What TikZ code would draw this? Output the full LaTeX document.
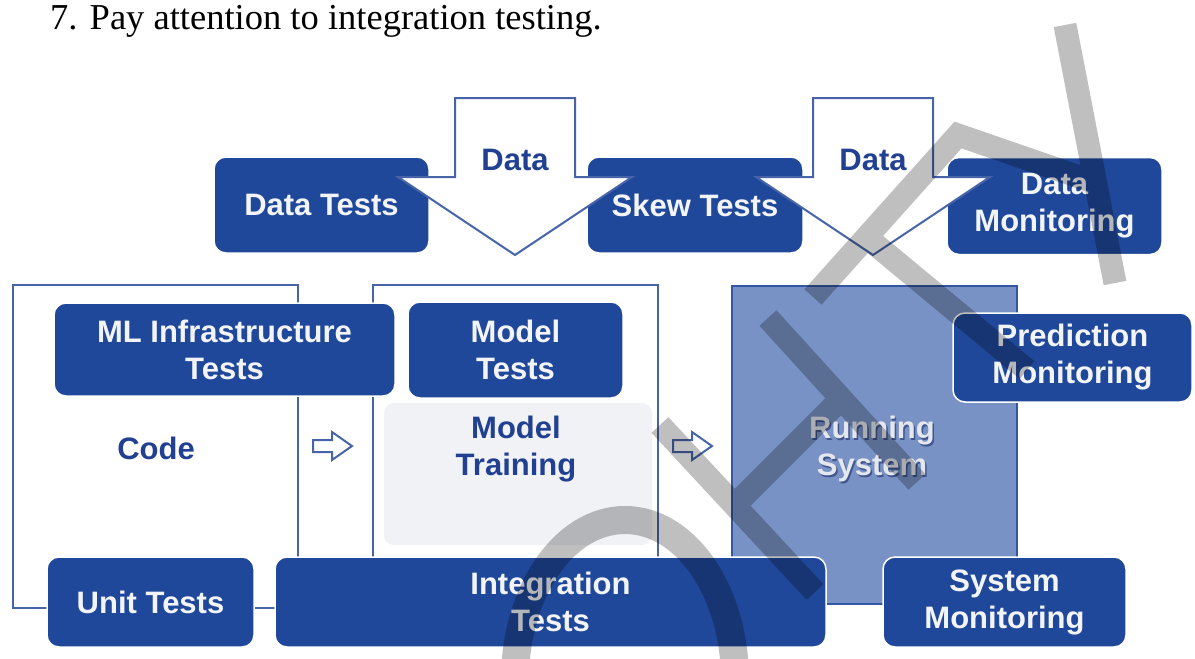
\documentclass[tikz,border=0pt]{standalone}
\usepackage{fontspec}
\newfontfamily\sansfam{Liberation Sans}
\newfontfamily\seriffam{Liberation Serif}
\definecolor{boxblue}{RGB}{31,72,154}
\definecolor{boxtext}{RGB}{242,244,248}
\definecolor{lineblue}{RGB}{72,100,168}
\definecolor{txtblue}{RGB}{33,64,145}
\definecolor{runfill}{RGB}{121,146,197}
\definecolor{runedge}{RGB}{52,86,163}
\definecolor{runtext}{RGB}{228,231,238}
\definecolor{runshade}{RGB}{40,58,118}
\definecolor{trainfill}{RGB}{240,242,246}
\begin{document}
\begin{tikzpicture}[x=1pt,y=-1pt,
  labelfont/.style={font=\sansfam\bfseries\fontsize{31}{37}\selectfont},
  tbox/.style={labelfont, fill=boxblue, draw=white, line width=1.5pt,
    rounded corners=12pt, text=boxtext, align=center, inner sep=0pt},
  frameline/.style={draw=lineblue, line width=2.2pt},
  datashape/.style={draw=lineblue, line width=2pt, fill=white, line join=miter},
  bluelabel/.style={labelfont, text=txtblue, align=center, inner sep=0pt},
  hollowarrow/.pic={
    \draw[draw=lineblue, line width=2pt, fill=white, line join=miter]
      (-19,-6) -- (0,-6) -- (0,-14) -- (20,0) -- (0,14) -- (0,6) -- (-19,6) -- cycle;},
  wm/.style={draw=black, draw opacity=0.25, line cap=butt, line join=miter},
]
\useasboundingbox (0,0) rectangle (1195,659);
\fill[white] (0,0) rectangle (1195,659);

% heading
\node[anchor=base west, inner sep=0pt, font=\seriffam\fontsize{36.5}{40}\selectfont]
  (title) at (50,29) {7. Pay attention to integration testing.};

% code and model frames
\draw[frameline] (13,285) rectangle (298,608);
\draw[frameline] (373,285) rectangle (658,608);
\node[fill=trainfill, rounded corners=10pt, minimum width=268pt, minimum height=142pt,
  inner sep=0pt] (trainarea) at (518,474) {};

% running system
\node[draw=runedge, line width=2.6pt, fill=runfill, minimum width=285pt,
  minimum height=318pt, inner sep=0pt] (running) at (874.5,445) {};

% test and monitoring boxes
\node[tbox, minimum width=215pt, minimum height=96pt] (datatests) at (321.5,205) {Data Tests};
\node[tbox, minimum width=216pt, minimum height=96pt] (skewtests) at (695,205) {Skew Tests};
\node[tbox, minimum width=215pt, minimum height=97pt] (datamon) at (1054.5,206) {Data\\Monitoring};
\node[tbox, minimum width=341pt, minimum height=93pt] (mlinfra) at (224.5,349.5) {ML Infrastructure\\Tests};
\node[tbox, minimum width=215pt, minimum height=96pt] (modeltests) at (515.5,350) {Model\\Tests};
\node[tbox, minimum width=239pt, minimum height=89pt] (predmon) at (1072.5,357.5) {Prediction\\Monitoring};
\node[tbox, minimum width=207pt, minimum height=90pt] (unittests) at (150.5,602) {Unit Tests};
\node[tbox, minimum width=551pt, minimum height=90pt] (integ) at (550.5,602) {Integration\\Tests};
\node[tbox, minimum width=243pt, minimum height=90pt] (sysmon) at (1004.5,602) {System\\Monitoring};

% data inflow arrows
\draw[datashape] (455,98) -- (575,98) -- (575,177) -- (632,177) -- (515,255)
  -- (398,177) -- (455,177) -- cycle;
\draw[datashape] (813,98) -- (933,98) -- (933,177) -- (990,177) -- (873,255)
  -- (756,177) -- (813,177) -- cycle;
\node[bluelabel] (datain) at (515,160) {Data};
\node[bluelabel] (dataout) at (873,160) {Data};

% stage labels
\node[bluelabel] (code) at (156,448) {Code};
\node[bluelabel] (training) at (516,449) {Model\\Training};
\node[labelfont, text=runshade, opacity=0.7, align=center, inner sep=0pt]
  (runshadow) at (873.5,450.5) {Running\\System};
\node[labelfont, text=runtext, align=center, inner sep=0pt]
  (runlabel) at (872,449) {Running\\System};

% flow markers
\pic at (332,446) {hollowarrow};
\pic at (692,446) {hollowarrow};

% overlay strokes
\draw[wm, line width=28pt] (625,680) ellipse [x radius=110, y radius=160];
\draw[wm, line width=23pt]
  (660,425) -- (815,592)
  (768,318) -- (917,482)
  (735,505) -- (840,400)
  (813,297) -- (958,135) -- (1097,183)
  (870,240) -- (1027,370)
  (1065,25) -- (1115,283);
\end{tikzpicture}
\end{document}
